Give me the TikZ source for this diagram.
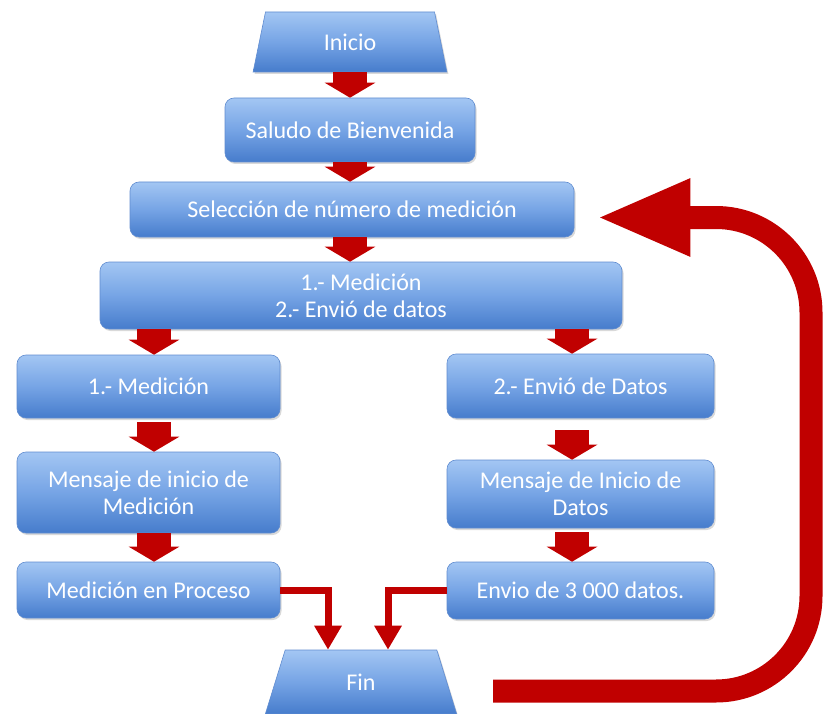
\documentclass[tikz,border=0pt]{standalone}
\usepackage{fontspec}
\setmainfont{Carlito}
\usetikzlibrary{shapes.geometric,arrows.meta,shadows}
\definecolor{boxtop}{RGB}{163,198,243}
\definecolor{boxmid}{RGB}{118,164,229}
\definecolor{boxbot}{RGB}{70,124,204}
\definecolor{boxline}{RGB}{96,140,208}
\definecolor{flowred}{RGB}{192,0,0}
\begin{document}
\begin{tikzpicture}[x=1pt,y=-1pt,
  flowbox/.style={top color=boxtop, bottom color=boxbot, middle color=boxmid,
    draw=boxline, line width=0.6pt, text=white,
    font=\fontsize{24}{27}\selectfont, align=center, inner sep=0pt,
    drop shadow={shadow xshift=1.5pt, shadow yshift=-2pt, opacity=0.3, fill=black!50}},
  stepbox/.style={flowbox, rectangle, rounded corners=9pt},
  endbox/.style={flowbox, trapezium, trapezium stretches=true,
    trapezium left angle=77, trapezium right angle=77},
  blockarrow/.style={draw=flowred, line width=34pt, -{Triangle[width=50pt,length=15pt]}},
  elbowarrow/.style={draw=flowred, line width=7pt, -{Triangle[width=26pt,length=24pt]}},
  returnarrow/.style={draw=flowred, line width=23pt, rounded corners=95pt,
    -{Triangle[width=71pt,length=94pt]}}
]
\useasboundingbox (0,0) rectangle (824,714);

% main column
\node[endbox, minimum width=194pt, minimum height=60pt] (inicio) at (350,42) {Inicio};
\node[stepbox, minimum width=250pt, minimum height=64pt] (saludo) at (350,130) {Saludo de Bienvenida};
\node[stepbox, minimum width=444pt, minimum height=55pt] (sel) at (352,209.5) {Selección de número de medición};
\node[stepbox, minimum width=522pt, minimum height=67pt] (big) at (361,295.5) {1.- Medición\\2.- Envió de datos};

% left branch
\node[stepbox, minimum width=263pt, minimum height=63pt] (b1) at (148.5,386.5) {1.- Medición};
\node[stepbox, minimum width=263pt, minimum height=81pt] (b2) at (148.5,492.5) {Mensaje de inicio de\\Medición};
\node[stepbox, minimum width=263pt, minimum height=56pt] (b3) at (148.5,590) {Medición en Proceso};

% right branch
\node[stepbox, minimum width=267pt, minimum height=64pt] (c1) at (580.5,386) {2.- Envió de Datos};
\node[stepbox, minimum width=267pt, minimum height=68pt] (c2) at (580.5,494) {Mensaje de Inicio de\\Datos};
\node[stepbox, minimum width=267pt, minimum height=57pt] (c3) at (580.5,590.5) {Envio de 3 000 datos.};

% end
\node[endbox, minimum width=192pt, minimum height=64pt] (fin) at (361,682) {Fin};

% arrow columns
\coordinate (mcol) at (350,0);
\coordinate (lcol) at (154,0);
\coordinate (rcol) at (572,0);

\draw[blockarrow] (inicio.south -| mcol) -- (saludo.north -| mcol);
\draw[blockarrow] (saludo.south -| mcol) -- (sel.north -| mcol);
\draw[blockarrow] (sel.south -| mcol) -- (big.north -| mcol);
\draw[blockarrow] (big.south -| lcol) -- (b1.north -| lcol);
\draw[blockarrow, shorten <=4pt] (b1.south -| lcol) -- (b2.north -| lcol);
\draw[blockarrow] (b2.south -| lcol) -- (b3.north -| lcol);
\draw[blockarrow] (big.south -| rcol) -- (c1.north -| rcol);
\draw[blockarrow, shorten <=12pt] (c1.south -| rcol) -- (c2.north -| rcol);
\draw[blockarrow, shorten <=4pt] (c2.south -| rcol) -- (c3.north -| rcol);

% both branches join at the end
\draw[elbowarrow] (b3.east) -| ([xshift=-33pt]fin.north);
\draw[elbowarrow] (c3.west) -| ([xshift=27pt]fin.north);

% return path back to the selection step
\coordinate (loopstart) at (493,691);
\coordinate (loopside) at (811,0);
\coordinate (looptip) at ([xshift=22pt,yshift=-8pt]sel.east);
\draw[returnarrow] (loopstart) -- (loopstart -| loopside) -- (looptip -| loopside) -- (looptip);
\end{tikzpicture}
\end{document}
